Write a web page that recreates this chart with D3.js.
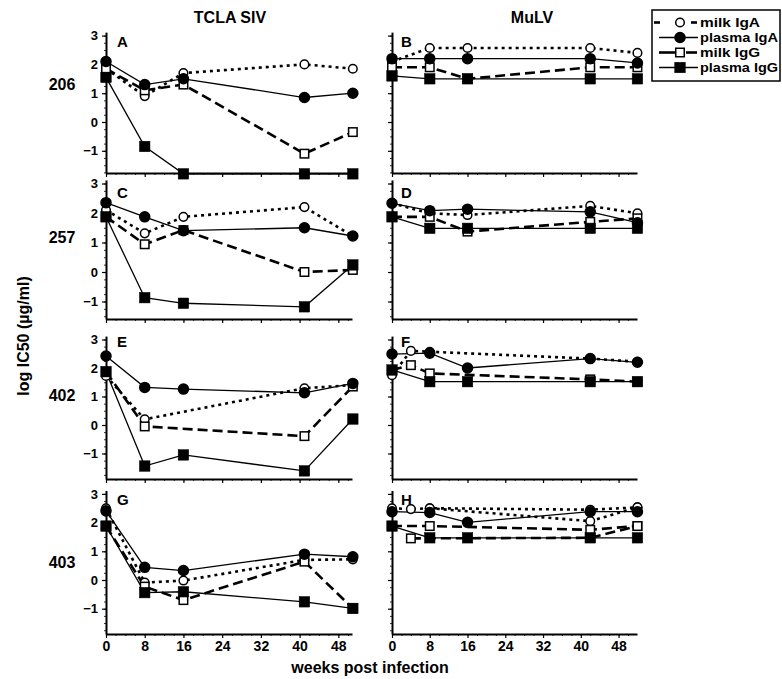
<!DOCTYPE html>
<html>
<head>
<meta charset="utf-8">
<script src="https://cdn.jsdelivr.net/npm/d3@7"></script>
<style>
  html, body { margin: 0; padding: 0; background: #fff; }
  svg { display: block; font-family: "Liberation Sans", Arial, sans-serif; font-weight: bold; }
</style>
</head>
<body>
<svg id="chart" width="782" height="679"></svg>
<script>
// ---------- DATA ----------
const columnTitles = ["TCLA SIV", "MuLV"];
const animals = ["206", "257", "402", "403"];
const panelLetters = [["A", "B"], ["C", "D"], ["E", "F"], ["G", "H"]];
const seriesNames = ["milk IgA", "plasma IgA", "milk IgG", "plasma IgG"];
const weeksSIV = [0, 8, 16, 41, 51];
const weeksMuLV = [0, 4, 8, 16, 42, 52];
const xTicks = [0, 8, 16, 24, 32, 40, 48];
const yTicks = [3, 2, 1, 0, -1];

// TCLA SIV panels (weeksSIV)
const A_milkIgA   = [1.85, 0.9, 1.7, 2.0, 1.85];
const A_plasmaIgA = [2.1, 1.3, 1.5, 0.85, 1.0];
const A_milkIgG   = [1.85, 1.1, 1.3, -1.1, -0.35];
const A_plasmaIgG = [1.55, -0.85, -1.8, -1.8, -1.8];

const C_milkIgA   = [2.1, 1.31, 1.87, 2.2, 1.22];
const C_plasmaIgA = [2.35, 1.87, 1.4, 1.5, 1.22];
const C_milkIgG   = [1.87, 0.94, 1.42, 0.0, 0.07];
const C_plasmaIgG = [1.87, -0.87, -1.06, -1.18, 0.24];

const E_milkIgA   = [1.72, 0.2, null, 1.29, 1.4];
const E_plasmaIgA = [2.42, 1.32, 1.26, 1.13, 1.46];
const E_milkIgG   = [1.87, -0.05, null, -0.39, 1.35];
const E_plasmaIgG = [1.87, -1.44, -1.05, -1.61, 0.21];

const G_milkIgA   = [2.5, -0.09, -0.02, 0.7, 0.72];
const G_plasmaIgA = [2.41, 0.44, 0.33, 0.9, 0.81];
const G_milkIgG   = [1.88, -0.23, -0.7, 0.64, -0.99];
const G_plasmaIgG = [1.88, -0.44, -0.41, -0.76, -0.99];

// MuLV panels (weeksMuLV)
const B_milkIgA   = [2.1, null, 2.57, 2.57, 2.57, 2.4];
const B_plasmaIgA = [2.2, null, 2.2, 2.2, 2.2, 2.05];
const B_milkIgG   = [1.9, null, 1.9, 1.5, 1.9, 1.9];
const B_plasmaIgG = [1.6, null, 1.5, 1.5, 1.5, 1.5];

const D_milkIgA   = [2.33, null, 1.99, 1.93, 2.24, 1.99];
const D_plasmaIgA = [2.33, null, 2.08, 2.13, 2.04, 1.67];
const D_milkIgG   = [1.87, null, 1.87, 1.37, 1.7, 1.82];
const D_plasmaIgG = [1.87, null, 1.48, 1.48, 1.48, 1.48];

const F_milkIgA   = [1.75, 2.6, 2.57, null, 2.33, 2.22];
const F_plasmaIgA = [2.49, null, 2.52, 2.0, 2.33, 2.2];
const F_milkIgG   = [1.93, 2.1, 1.81, null, 1.6, 1.52];
const F_plasmaIgG = [1.93, null, 1.52, 1.52, 1.52, 1.52];

const H_milkIgA   = [2.5, 2.47, 2.5, null, 2.45, 2.53];
const H_milkIgA2  = [null, null, 2.5, null, 2.05, 2.53];
const H_plasmaIgA = [2.38, null, 2.35, 2.01, 2.38, 2.38];
const H_milkIgG   = [1.88, null, 1.88, null, 1.75, 1.88];
const H_milkIgG2  = [null, 1.45, null, null, 1.47, 1.88];
const H_plasmaIgG = [1.88, null, 1.47, 1.47, 1.47, 1.47];

// ---------- TABLE built from the arrays ----------
const panelSeries = {
  A: [["milk IgA", A_milkIgA], ["plasma IgA", A_plasmaIgA], ["milk IgG", A_milkIgG], ["plasma IgG", A_plasmaIgG]],
  C: [["milk IgA", C_milkIgA], ["plasma IgA", C_plasmaIgA], ["milk IgG", C_milkIgG], ["plasma IgG", C_plasmaIgG]],
  E: [["milk IgA", E_milkIgA], ["plasma IgA", E_plasmaIgA], ["milk IgG", E_milkIgG], ["plasma IgG", E_plasmaIgG]],
  G: [["milk IgA", G_milkIgA], ["plasma IgA", G_plasmaIgA], ["milk IgG", G_milkIgG], ["plasma IgG", G_plasmaIgG]],
  B: [["milk IgA", B_milkIgA], ["plasma IgA", B_plasmaIgA], ["milk IgG", B_milkIgG], ["plasma IgG", B_plasmaIgG]],
  D: [["milk IgA", D_milkIgA], ["plasma IgA", D_plasmaIgA], ["milk IgG", D_milkIgG], ["plasma IgG", D_plasmaIgG]],
  F: [["milk IgA", F_milkIgA], ["plasma IgA", F_plasmaIgA], ["milk IgG", F_milkIgG], ["plasma IgG", F_plasmaIgG]],
  H: [["milk IgA", H_milkIgA], ["milk IgA", H_milkIgA2], ["plasma IgA", H_plasmaIgA], ["milk IgG", H_milkIgG], ["milk IgG", H_milkIgG2], ["plasma IgG", H_plasmaIgG]]
};

// ---------- LAYOUT / STYLE ----------
const rowsLayout = [
  { zero: 122, unit: 28.8, bottom: 173 },
  { zero: 272, unit: 29.5, bottom: 319 },
  { zero: 425, unit: 28.5, bottom: 479 },
  { zero: 580, unit: 28.7, bottom: 634 }
];
const colsLayout = [
  { x0: 106, perWeek: 4.84, end: 352, weeks: weeksSIV, letterX: 117, labelX: 230 },
  { x0: 392, perWeek: 4.72, end: 637, weeks: weeksMuLV, letterX: 401, labelX: 532 }
];
const rowLabelY = [84, 237, 395, 562];
const letterY = [47, 198, 347, 505];

const styles = {
  "milk IgA":   { dash: "3,4",  width: 2.6, shape: "circle", fill: "#fff", size: 4.3 },
  "plasma IgA": { dash: null,   width: 1.3, shape: "circle", fill: "#000", size: 5 },
  "milk IgG":   { dash: "10,5", width: 2.6, shape: "square", fill: "#fff", size: 8.5 },
  "plasma IgG": { dash: null,   width: 1.3, shape: "square", fill: "#000", size: 10.5 }
};
const markerOrder = ["milk IgA", "milk IgG", "plasma IgA", "plasma IgG"];

const svg = d3.select("#chart");

function drawMarker(g, shape, cx, cy, st) {
  if (shape === "circle") {
    g.append("circle").attr("cx", cx).attr("cy", cy).attr("r", st.size)
      .attr("fill", st.fill).attr("stroke", "#000").attr("stroke-width", 1.5);
  } else {
    g.append("rect").attr("x", cx - st.size / 2).attr("y", cy - st.size / 2)
      .attr("width", st.size).attr("height", st.size)
      .attr("fill", st.fill).attr("stroke", "#000").attr("stroke-width", st.fill === "#000" ? 0.5 : 1.5);
  }
}

rowsLayout.forEach((rl, ri) => {
  colsLayout.forEach((cl, ci) => {
    const letter = panelLetters[ri][ci];
    const bottomVal = (rl.zero - rl.bottom) / rl.unit;
    const y = d3.scaleLinear().domain([bottomVal, 3.12]).range([rl.bottom, rl.zero - 3.12 * rl.unit]);
    const x = d3.scaleLinear().domain([0, (cl.end - cl.x0) / cl.perWeek]).range([cl.x0, cl.end]);
    const g = svg.append("g");

    // minor x ticks
    const minorX = d3.range(0, x.domain()[1] + 0.01, 2);
    g.append("g").attr("transform", `translate(0,${rl.bottom})`)
      .call(d3.axisBottom(x).tickValues(minorX).tickSize(2).tickSizeOuter(0).tickFormat(""))
      .call(a => a.select(".domain").remove())
      .call(a => a.selectAll("line").attr("stroke-width", 0.8));
    // minor y ticks
    const minorY = d3.range(Math.ceil(bottomVal * 4) / 4, 3.01, 0.25);
    g.append("g").attr("transform", `translate(${cl.x0},0)`)
      .call(d3.axisLeft(y).tickValues(minorY).tickSize(2).tickSizeOuter(0).tickFormat(""))
      .call(a => a.select(".domain").remove())
      .call(a => a.selectAll("line").attr("stroke-width", 0.8));

    // major x axis
    const xa = g.append("g").attr("transform", `translate(0,${rl.bottom})`)
      .call(d3.axisBottom(x).tickValues(xTicks).tickSize(4).tickSizeOuter(0).tickPadding(3)
        .tickFormat(ri === 3 ? d3.format("d") : ""));
    xa.select(".domain").attr("stroke-width", 2);
    xa.selectAll("line").attr("stroke-width", 1.2);
    xa.selectAll("text").attr("font-size", 14).attr("font-weight", "bold")
      .attr("font-family", "Liberation Sans, Arial, sans-serif").attr("fill", "#000");

    // major y axis
    const ya = g.append("g").attr("transform", `translate(${cl.x0},0)`)
      .call(d3.axisLeft(y).tickValues(yTicks).tickSize(4).tickSizeOuter(0).tickPadding(4)
        .tickFormat(ci === 0 ? d3.format("d") : ""));
    ya.select(".domain").attr("stroke-width", 2);
    ya.selectAll("line").attr("stroke-width", 1.2);
    ya.selectAll("text").attr("font-size", 13).attr("font-weight", "bold")
      .attr("font-family", "Liberation Sans, Arial, sans-serif").attr("fill", "#000");

    // panel letter
    g.append("text").attr("x", cl.letterX).attr("y", letterY[ri])
      .attr("font-size", 15).text(letter);

    // series lines
    const series = panelSeries[letter];
    const line = d3.line().x(d => x(d[0])).y(d => y(d[1]));
    series.forEach(([name, vals]) => {
      const st = styles[name];
      const pts = cl.weeks.map((w, i) => [w, vals[i]]).filter(d => d[1] != null);
      g.append("path").attr("d", line(pts)).attr("fill", "none").attr("stroke", "#000")
        .attr("stroke-width", st.width).attr("stroke-dasharray", st.dash);
    });
    // markers
    markerOrder.forEach(nm => {
      series.filter(s => s[0] === nm).forEach(([name, vals]) => {
        const st = styles[name];
        cl.weeks.forEach((w, i) => {
          if (vals[i] != null) drawMarker(g, st.shape, x(w), y(vals[i]), st);
        });
      });
    });
  });
  // row label
  svg.append("text").attr("x", 62).attr("y", rowLabelY[ri]).attr("text-anchor", "middle")
    .attr("dominant-baseline", "central").attr("font-size", 16).text(animals[ri]);
});

// column titles
colsLayout.forEach((cl, ci) => {
  svg.append("text").attr("x", cl.labelX).attr("y", 17).attr("text-anchor", "middle")
    .attr("dominant-baseline", "central").attr("font-size", 16).text(columnTitles[ci]);
});

// axis titles
svg.append("text").attr("transform", "translate(23,336) rotate(-90)")
  .attr("text-anchor", "middle").attr("dominant-baseline", "central")
  .attr("font-size", 16).text("log IC50 (µg/ml)");
svg.append("text").attr("x", 370).attr("y", 667).attr("text-anchor", "middle")
  .attr("dominant-baseline", "central").attr("font-size", 16).text("weeks post infection");

// legend
const lg = svg.append("g");
lg.append("rect").attr("x", 652).attr("y", 10).attr("width", 128).attr("height", 71)
  .attr("fill", "#fff").attr("stroke", "#000").attr("stroke-width", 1.5);
const legendY = [22.5, 37.5, 52.5, 67.5];
seriesNames.forEach((nm, i) => {
  const st = styles[nm];
  const ly = legendY[i];
  if (nm === "milk IgA") {
    lg.append("line").attr("x1", 654).attr("x2", 660).attr("y1", ly).attr("y2", ly).attr("stroke", "#000").attr("stroke-width", 2.6);
    lg.append("line").attr("x1", 691).attr("x2", 697).attr("y1", ly).attr("y2", ly).attr("stroke", "#000").attr("stroke-width", 2.6);
  } else if (nm === "milk IgG") {
    lg.append("line").attr("x1", 659).attr("x2", 676).attr("y1", ly).attr("y2", ly).attr("stroke", "#000").attr("stroke-width", 2.6);
    lg.append("line").attr("x1", 686).attr("x2", 697).attr("y1", ly).attr("y2", ly).attr("stroke", "#000").attr("stroke-width", 2.6);
  } else {
    lg.append("line").attr("x1", 659).attr("x2", 698).attr("y1", ly).attr("y2", ly).attr("stroke", "#000").attr("stroke-width", 1.3);
  }
  drawMarker(lg, st.shape, 680, ly, st);
  lg.append("text").attr("x", 700).attr("y", ly).attr("dominant-baseline", "central")
    .attr("font-size", 13.2).attr("textLength", nm.length > 8 ? 78 : 60).attr("lengthAdjust", "spacingAndGlyphs")
    .text(nm);
});
</script>
</body>
</html>
